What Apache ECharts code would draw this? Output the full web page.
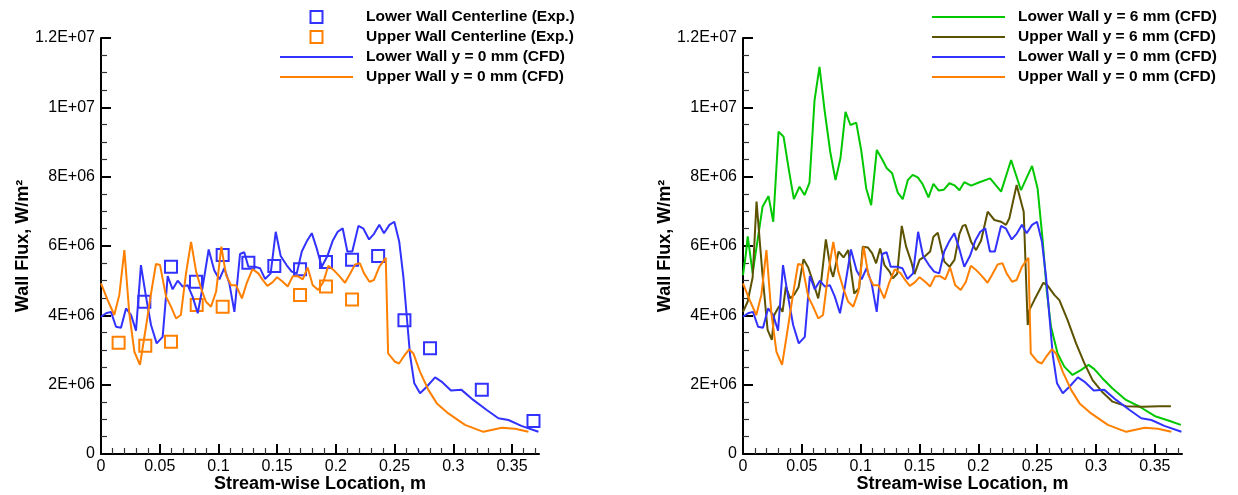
<!DOCTYPE html>
<html>
<head>
<meta charset="utf-8">
<script src="https://cdn.jsdelivr.net/npm/echarts@6/dist/echarts.min.js"></script>
<style>
  html, body { margin: 0; padding: 0; background: #fff; }
  #chart { width: 1238px; height: 495px; }
</style>
</head>
<body>
<div id="chart"></div>
<script>
// values in 1E+06 W/m2, x in m
const lowerWall0 = [[0,3.96],[0.0043,4.06],[0.0085,4.10],[0.0128,3.67],[0.017,3.64],[0.0213,4.20],[0.0256,4.01],[0.0298,3.56],[0.034,5.45],[0.0383,4.54],[0.0426,3.72],[0.0474,3.19],[0.0525,3.38],[0.0568,5.13],[0.061,4.75],[0.0653,5.00],[0.0696,4.83],[0.0738,4.87],[0.078,4.54],[0.0824,4.06],[0.0866,4.83],[0.0917,5.90],[0.0965,5.29],[0.1008,5.04],[0.105,5.36],[0.1093,4.92],[0.1136,4.10],[0.1184,5.77],[0.122,5.82],[0.1255,5.40],[0.131,5.40],[0.1354,5.36],[0.1397,5.05],[0.1445,5.21],[0.1488,6.41],[0.153,5.71],[0.158,5.45],[0.1624,5.26],[0.1667,5.21],[0.171,5.84],[0.175,6.12],[0.1795,6.37],[0.1837,5.93],[0.188,5.40],[0.1928,5.71],[0.1973,6.15],[0.2016,6.41],[0.2058,6.51],[0.2098,5.84],[0.214,5.84],[0.2192,6.58],[0.2235,6.50],[0.2283,6.19],[0.2325,6.35],[0.237,6.61],[0.241,6.37],[0.2456,6.61],[0.2498,6.70],[0.254,6.12],[0.2575,5.11],[0.2604,3.96],[0.2632,2.85],[0.2668,2.04],[0.2717,1.75],[0.2774,1.94],[0.2845,2.21],[0.290,2.09],[0.298,1.83],[0.307,1.85],[0.317,1.56],[0.3285,1.27],[0.3384,1.03],[0.347,0.98],[0.358,0.81],[0.3725,0.64]];

const upperWall0 = [[0,4.92],[0.0057,4.44],[0.0113,4.01],[0.0156,4.59],[0.0199,5.88],[0.0241,4.06],[0.0284,2.95],[0.0332,2.57],[0.0383,3.67],[0.0426,4.63],[0.0468,5.48],[0.0503,5.45],[0.0554,4.54],[0.0596,4.25],[0.0639,3.91],[0.068,4.01],[0.0724,5.21],[0.0767,6.12],[0.081,5.26],[0.0852,4.78],[0.0894,4.39],[0.0937,4.25],[0.098,4.68],[0.1025,5.98],[0.1065,5.16],[0.1107,4.87],[0.115,4.87],[0.120,4.49],[0.124,4.92],[0.129,5.33],[0.134,5.21],[0.1377,5.02],[0.1417,4.85],[0.146,4.95],[0.150,5.10],[0.1548,4.97],[0.159,4.83],[0.1633,5.13],[0.1675,5.13],[0.1718,5.04],[0.176,5.38],[0.1803,4.87],[0.185,4.73],[0.1894,4.97],[0.1936,5.43],[0.198,5.31],[0.203,5.13],[0.2078,4.94],[0.212,5.19],[0.2164,5.47],[0.2205,5.50],[0.224,5.21],[0.2286,4.97],[0.2325,5.02],[0.237,5.40],[0.2425,5.66],[0.2445,2.90],[0.2504,2.66],[0.2538,2.61],[0.2575,2.80],[0.2624,3.02],[0.266,2.90],[0.2717,2.37],[0.2788,1.85],[0.286,1.46],[0.2958,1.17],[0.31,0.84],[0.3256,0.64],[0.3413,0.76],[0.3526,0.73],[0.364,0.64]];

const lowerWall6 = [[0,5.16],[0.0025,5.79],[0.004,6.28],[0.0082,5.22],[0.0166,7.13],[0.0217,7.44],[0.0257,6.70],[0.0302,9.30],[0.0345,9.15],[0.039,8.19],[0.0432,7.35],[0.048,7.71],[0.0523,7.47],[0.0565,7.83],[0.0608,10.21],[0.065,11.17],[0.0693,9.92],[0.0741,8.72],[0.0786,7.90],[0.0828,8.53],[0.0871,9.87],[0.0913,9.49],[0.0962,9.56],[0.1004,8.77],[0.1047,7.66],[0.1089,7.18],[0.1137,8.77],[0.1182,8.50],[0.1222,8.24],[0.1267,8.10],[0.1315,7.54],[0.1357,7.35],[0.14,7.90],[0.1442,8.05],[0.1485,7.98],[0.1527,7.78],[0.1576,7.40],[0.1618,7.79],[0.1663,7.60],[0.1705,7.62],[0.1754,7.81],[0.1797,7.75],[0.1839,7.61],[0.188,7.84],[0.1938,7.74],[0.2009,7.84],[0.21,7.95],[0.2193,7.57],[0.2278,8.48],[0.2362,7.61],[0.2456,8.31],[0.2503,7.66],[0.2546,6.17],[0.258,4.73],[0.2617,3.67],[0.2673,2.90],[0.273,2.52],[0.280,2.28],[0.287,2.42],[0.2936,2.57],[0.2985,2.45],[0.3055,2.18],[0.314,1.89],[0.3254,1.56],[0.3367,1.37],[0.3508,1.08],[0.362,0.96],[0.372,0.84]];

const upperWall6 = [[0,4.1],[0.004,4.4],[0.0082,5.1],[0.0115,7.28],[0.0165,5.2],[0.0209,3.58],[0.0245,3.29],[0.0265,4.01],[0.0308,4.27],[0.0336,4.10],[0.0364,4.83],[0.0401,4.49],[0.0436,4.6],[0.0472,4.81],[0.0514,5.62],[0.0554,5.38],[0.0599,4.92],[0.0639,4.49],[0.0665,5.0],[0.0704,6.19],[0.0746,5.31],[0.0766,5.11],[0.0812,5.84],[0.0854,5.67],[0.0894,5.88],[0.0945,4.63],[0.0987,4.78],[0.1018,5.98],[0.106,5.96],[0.1098,5.79],[0.1131,5.50],[0.1165,5.93],[0.1202,5.45],[0.1245,5.26],[0.1273,5.07],[0.131,5.2],[0.1349,6.58],[0.1386,5.98],[0.1429,5.55],[0.1457,5.19],[0.15,5.60],[0.1548,5.71],[0.159,5.84],[0.1618,6.27],[0.1655,6.38],[0.1711,5.55],[0.1754,5.40],[0.1797,5.6],[0.1839,6.35],[0.1867,6.58],[0.189,6.61],[0.1924,6.27],[0.1938,6.12],[0.198,5.88],[0.2023,6.16],[0.2079,6.99],[0.2136,6.75],[0.2193,6.70],[0.2235,6.61],[0.2263,6.80],[0.2325,7.76],[0.2385,6.99],[0.2419,3.72],[0.2433,4.15],[0.2475,4.44],[0.2552,4.94],[0.259,4.85],[0.2645,4.59],[0.2688,4.44],[0.2758,3.86],[0.283,3.19],[0.290,2.62],[0.297,2.13],[0.3055,1.78],[0.314,1.51],[0.3254,1.38],[0.3395,1.36],[0.3537,1.38],[0.3636,1.38]];

const lowerExp = [[0.0369,4.39],[0.0596,5.40],[0.0809,4.97],[0.1036,5.74],[0.1255,5.52],[0.1476,5.42],[0.1695,5.33],[0.1916,5.54],[0.2138,5.60],[0.236,5.71],[0.2584,3.86],[0.2802,3.05],[0.3243,1.85],[0.3683,0.95]];
const upperExp = [[0.015,3.21],[0.0377,3.12],[0.0596,3.24],[0.0815,4.30],[0.1036,4.25],[0.1695,4.59],[0.1916,4.83],[0.2138,4.46]];

const xTicks = [0, 0.05, 0.1, 0.15, 0.2, 0.25, 0.3, 0.35];

const BLUE = '#3232ff';
const ORANGE = '#ff8000';
const GREEN = '#00c800';
const OLIVE = '#5c5200';
const FONT = 'Liberation Sans, Arial, Helvetica, sans-serif';
const SQUARE = 'path://M0,0H10V10H0Z';
const DASH = 'path://M0,0H73V2H0Z';

const toW = arr => arr.map(p => [p[0], p[1] * 1e6]);

function expLabel(v) {
  if (v === 0) return '0';
  const e = Math.floor(Math.log10(v) + 1e-9);
  const m = Math.round(v / Math.pow(10, e) * 10) / 10;
  return m + 'E+' + (e < 10 ? '0' + e : e);
}

function xAxisCfg(idx) {
  return {
    type: 'value', gridIndex: idx, min: 0, max: 0.373, interval: 0.05,
    name: 'Stream-wise Location, m', nameLocation: 'middle', nameGap: 21, nameMoveOverlap: false,
    nameTextStyle: { fontFamily: FONT, fontWeight: 'bold', fontSize: 18, color: '#000' },
    axisLine: { lineStyle: { color: '#000', width: 2 } },
    axisTick: { inside: true, length: 10, lineStyle: { color: '#000', width: 2 }, customValues: xTicks },
    minorTick: { show: true, splitNumber: 5, length: 6, lineStyle: { color: '#333', width: 1.2 } },
    axisLabel: { fontFamily: FONT, fontSize: 16, color: '#000', margin: 5, customValues: xTicks,
      formatter: v => String(+v.toFixed(2)) },
    splitLine: { show: false }
  };
}
function yAxisCfg(idx) {
  return {
    type: 'value', gridIndex: idx, min: 0, max: 1.2e7, interval: 2e6,
    name: 'Wall Flux, W/m²', nameLocation: 'middle', nameGap: 69, nameRotate: 90, nameMoveOverlap: false,
    nameTextStyle: { fontFamily: FONT, fontWeight: 'bold', fontSize: 18, color: '#000' },
    axisLine: { lineStyle: { color: '#000', width: 2 } },
    axisTick: { inside: true, length: 10, lineStyle: { color: '#000', width: 2 } },
    minorTick: { show: true, splitNumber: 4, length: 6, lineStyle: { color: '#333', width: 1.2 } },
    axisLabel: { fontFamily: FONT, fontSize: 16, color: '#000', margin: 6, formatter: expLabel },
    splitLine: { show: false }
  };
}
function lineSeries(name, data, color, idx) {
  return {
    name: name, type: 'line', xAxisIndex: idx, yAxisIndex: idx, data: toW(data),
    symbol: 'none', lineStyle: { color: color, width: 2 }, itemStyle: { color: color }
  };
}
function expSeries(name, data, color) {
  return {
    name: name, type: 'scatter', xAxisIndex: 0, yAxisIndex: 0, data: toW(data),
    symbol: 'rect', symbolSize: 12,
    itemStyle: { color: 'rgba(0,0,0,0)', borderColor: color, borderWidth: 2, opacity: 1 }
  };
}
function legendCfg(left, items) {
  return {
    orient: 'vertical', left: left, top: 4, data: items,
    itemWidth: 73, itemHeight: 12, itemGap: 4, selectedMode: false, symbolKeepAspect: true,
    textStyle: { fontFamily: FONT, fontWeight: 'bold', fontSize: 15.5, lineHeight: 16, color: '#000', padding: [0, 0, 0, 8] }
  };
}
const lineItem = (name, color) => ({
  name: name, icon: DASH,
  itemStyle: { color: color, borderWidth: 0 }
});
const expItem = (name, color) => ({
  name: name, icon: SQUARE,
  itemStyle: { color: 'rgba(0,0,0,0)', borderColor: color, borderWidth: 2 }
});

const chart = echarts.init(document.getElementById('chart'));
chart.setOption({
  animation: false,
  backgroundColor: '#fff',
  grid: [
    { left: 101, top: 38, width: 438, height: 416, outerBoundsMode: 'none' },
    { left: 743, top: 38, width: 439, height: 416, outerBoundsMode: 'none' }
  ],
  legend: [
    legendCfg(275, [
      expItem('Lower Wall Centerline (Exp.)', BLUE),
      expItem('Upper Wall Centerline (Exp.)', ORANGE),
      lineItem('Lower Wall y = 0 mm (CFD)', BLUE),
      lineItem('Upper Wall y = 0 mm (CFD)', ORANGE)
    ]),
    legendCfg(927, [
      lineItem('Lower Wall y = 6 mm (CFD)', GREEN),
      lineItem('Upper Wall y = 6 mm (CFD)', OLIVE),
      lineItem('Lower Wall y = 0 mm (CFD)', BLUE),
      lineItem('Upper Wall y = 0 mm (CFD)', ORANGE)
    ])
  ],
  xAxis: [xAxisCfg(0), xAxisCfg(1)],
  yAxis: [yAxisCfg(0), yAxisCfg(1)],
  series: [
    lineSeries('Lower Wall y = 0 mm (CFD)', lowerWall0, BLUE, 0),
    lineSeries('Upper Wall y = 0 mm (CFD)', upperWall0, ORANGE, 0),
    expSeries('Lower Wall Centerline (Exp.)', lowerExp, BLUE),
    expSeries('Upper Wall Centerline (Exp.)', upperExp, ORANGE),
    lineSeries('Lower Wall y = 6 mm (CFD)', lowerWall6, GREEN, 1),
    lineSeries('Upper Wall y = 6 mm (CFD)', upperWall6, OLIVE, 1),
    lineSeries('Lower Wall y = 0 mm (CFD)', lowerWall0, BLUE, 1),
    lineSeries('Upper Wall y = 0 mm (CFD)', upperWall0, ORANGE, 1)
  ]
});
</script>
</body>
</html>
